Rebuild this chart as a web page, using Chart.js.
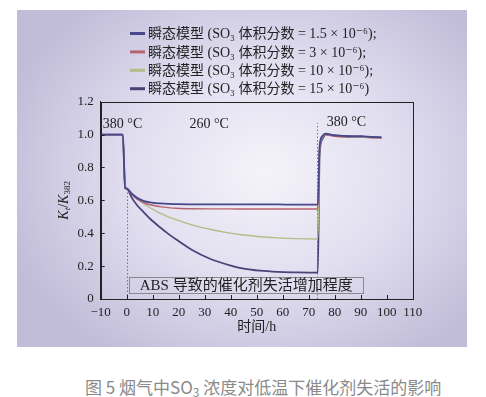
<!DOCTYPE html>
<html>
<head>
<meta charset="utf-8">
<script src="https://cdn.jsdelivr.net/npm/chart.js@4.4.0/dist/chart.umd.min.js"></script>
<style>
body { margin: 0; background: #fff; width: 486px; height: 397px; position: relative; overflow: hidden; }
#panel { position: absolute; left: 17px; top: 10px; width: 450px; height: 337px;
  background: radial-gradient(ellipse 60% 65% at 55% 48%, #f5f3f9 0%, #e1def0 50%, #c1bdd9 100%); }
#cap { position: absolute; left: 85px; top: 374px; font: 17px "Noto Sans CJK SC", sans-serif; color: #8a8a8a; white-space: nowrap; }
#cap sub { font-size: 12px; vertical-align: -3px; }
</style>
</head>
<body>
<div id="panel"><canvas id="chart" width="450" height="337"></canvas></div>
<div id="cap">图 5 烟气中SO<sub>3</sub> 浓度对低温下催化剂失活的影响</div>
<script>
// time in h
var times = [-10, -1.5, -0.6, 0, 2, 4, 6.4, 9, 12.8, 16, 19.2, 25, 32, 39.7, 45, 51.3, 58, 65, 73.5, 74.2, 75.2, 76.5, 80, 85, 90, 95, 98];

// Kt/K382 for each SO3 level
var k1_5 = [1.0, 1.0, 0.675, 0.672, 0.64, 0.615, 0.597, 0.587, 0.581, 0.578, 0.577, 0.576, 0.576, 0.575, 0.575, 0.575, 0.575, 0.574, 0.574, 0.93, 0.99, 1.005, 0.995, 0.99, 0.99, 0.985, 0.985];
var k3 = [1.0, 1.0, 0.675, 0.672, 0.635, 0.607, 0.587, 0.573, 0.562, 0.556, 0.552, 0.549, 0.548, 0.548, 0.547, 0.547, 0.547, 0.547, 0.547, 0.92, 0.985, 1.0, 0.99, 0.985, 0.99, 0.98, 0.98];
var k10 = [1.0, 1.0, 0.675, 0.672, 0.64, 0.61, 0.582, 0.555, 0.522, 0.5, 0.481, 0.451, 0.424, 0.401, 0.389, 0.379, 0.372, 0.367, 0.365, 0.9, 0.98, 1.0, 0.99, 0.985, 0.985, 0.98, 0.98];
var k15 = [1.0, 1.0, 0.675, 0.672, 0.615, 0.57, 0.53, 0.488, 0.436, 0.396, 0.36, 0.3, 0.245, 0.205, 0.185, 0.172, 0.165, 0.162, 0.16, 0.88, 0.97, 1.0, 0.995, 0.99, 0.985, 0.985, 0.98];

var seriesNames = [
  "瞬态模型 (SO₃ 体积分数 = 1.5 × 10⁻⁶);",
  "瞬态模型 (SO₃ 体积分数 = 3 × 10⁻⁶);",
  "瞬态模型 (SO₃ 体积分数 = 10 × 10⁻⁶);",
  "瞬态模型 (SO₃ 体积分数 = 15 × 10⁻⁶)"
];
var seriesColors = ["#47478c", "#b8646f", "#b3bd85", "#4c4277"];

var xTicks = [-10, 0, 10, 20, 30, 40, 50, 60, 70, 80, 90, 100, 110];
var yTicks = [0, 0.2, 0.4, 0.6, 0.8, 1.0, 1.2];

// annotations
var tempLabels = ["380 °C", "260 °C", "380 °C"];
var tempX = [-1.6, 31.7, 84.5];
var tempY = [1.064, 1.064, 1.077];
var guideX = [0, 73.3];
var guideTop = [0.67, 1.07];
var boxText = "ABS 导致的催化剂失活增加程度";

var serif = '"Liberation Serif", "DejaVu Serif", "Noto Sans CJK SC", serif';

function pts(vals) {
  return times.map(function (t, i) { return { x: t, y: vals[i] }; });
}

var allSeries = [k1_5, k3, k10, k15];
var datasets = allSeries.map(function (vals, i) {
  return {
    label: seriesNames[i],
    data: pts(vals),
    borderColor: seriesColors[i],
    backgroundColor: seriesColors[i],
    borderWidth: i == 0 || i == 3 ? 1.8 : 1.4,
    pointRadius: 0,
    cubicInterpolationMode: "monotone",
    fill: false
  };
});

var deco = {
  id: "deco",
  beforeDatasetsDraw: function (chart) {
    var ctx = chart.ctx, xs = chart.scales.x, ys = chart.scales.y;
    ctx.save();
    ctx.strokeStyle = "#777";
    ctx.lineWidth = 1;
    ctx.setLineDash([1.5, 2]);
    guideX.forEach(function (gx, i) {
      var px = Math.round(xs.getPixelForValue(gx)) + 0.5;
      ctx.beginPath();
      ctx.moveTo(px, ys.getPixelForValue(0));
      ctx.lineTo(px, ys.getPixelForValue(guideTop[i]));
      ctx.stroke();
    });
    ctx.setLineDash([]);
    // box with text
    var bx1 = xs.getPixelForValue(0.9), bx2 = xs.getPixelForValue(91);
    var by1 = ys.getPixelForValue(0.131), by2 = ys.getPixelForValue(0.034);
    ctx.strokeStyle = "#8a8a8a";
    ctx.strokeRect(Math.round(bx1) + 0.5, Math.round(by1) + 0.5, Math.round(bx2 - bx1), Math.round(by2 - by1));
    ctx.fillStyle = "#222";
    ctx.font = "15px " + serif;
    ctx.textAlign = "center";
    ctx.textBaseline = "middle";
    ctx.fillText(boxText, (bx1 + bx2) / 2, (by1 + by2) / 2 + 1);
    ctx.restore();
  },
  afterDraw: function (chart) {
    var ctx = chart.ctx, xs = chart.scales.x, ys = chart.scales.y, a = chart.chartArea;
    ctx.save();
    // frame
    ctx.strokeStyle = "#222";
    ctx.lineWidth = 1;
    ctx.strokeRect(Math.round(a.left) + 0.5, Math.round(a.top) + 0.5, Math.round(a.right - a.left), Math.round(a.bottom - a.top));
    // inward ticks
    ctx.beginPath();
    xTicks.forEach(function (v) {
      var px = Math.round(xs.getPixelForValue(v)) + 0.5;
      ctx.moveTo(px, a.bottom);
      ctx.lineTo(px, a.bottom - 4);
    });
    yTicks.forEach(function (v) {
      var py = Math.round(ys.getPixelForValue(v)) + 0.5;
      ctx.moveTo(a.left, py);
      ctx.lineTo(a.left + 4, py);
    });
    ctx.stroke();
    // temperature labels
    ctx.fillStyle = "#222";
    ctx.font = "14px " + serif;
    ctx.textAlign = "center";
    ctx.textBaseline = "middle";
    tempLabels.forEach(function (t, i) {
      ctx.fillText(t, xs.getPixelForValue(tempX[i]), ys.getPixelForValue(tempY[i]));
    });
    // legend
    ctx.textAlign = "left";
    ctx.font = "14px " + serif;
    seriesNames.forEach(function (name, i) {
      var ly = 23.5 + i * 18.4;
      ctx.strokeStyle = seriesColors[i];
      ctx.lineWidth = 3;
      ctx.beginPath();
      ctx.moveTo(113, ly);
      ctx.lineTo(128, ly);
      ctx.stroke();
      ctx.fillStyle = "#222";
      ctx.fillText(name, 131, ly + 1);
    });
    // y axis title K_t/K_382
    ctx.translate(47.5, (a.top + a.bottom) / 2);
    ctx.rotate(-Math.PI / 2);
    var parts = [
      { t: "K", f: "italic 14px " + serif, dy: 0 },
      { t: "t", f: "italic 9px " + serif, dy: 3 },
      { t: "/", f: "14px " + serif, dy: 0 },
      { t: "K", f: "italic 14px " + serif, dy: 0 },
      { t: "382", f: "9px " + serif, dy: 3 }
    ];
    var total = 0;
    parts.forEach(function (p) { ctx.font = p.f; total += ctx.measureText(p.t).width; });
    var cx = -total / 2;
    ctx.fillStyle = "#222";
    parts.forEach(function (p) {
      ctx.font = p.f;
      ctx.fillText(p.t, cx, p.dy);
      cx += ctx.measureText(p.t).width;
    });
    ctx.restore();
  }
};

var ctx = document.getElementById("chart").getContext("2d");
var chartLine = new Chart(ctx, {
  type: "line",
  data: { datasets: datasets },
  plugins: [deco],
  options: {
    responsive: false,
    animation: false,
    layout: { padding: { top: 91.7, right: 54.3, left: 0, bottom: 0 } },
    plugins: { legend: { display: false }, tooltip: { enabled: false } },
    scales: {
      x: {
        type: "linear",
        min: -10,
        max: 110,
        afterBuildTicks: function (s) { s.ticks = xTicks.map(function (v) { return { value: v }; }); },
        afterFit: function (s) { s.height = 48; },
        grid: { display: false, drawTicks: false },
        border: { display: true, color: "#222" },
        ticks: {
          autoSkip: false,
          maxRotation: 0,
          padding: 6,
          color: "#222",
          font: { family: serif, size: 13 },
          callback: function (v) { return v < 0 ? "−" + (-v) : "" + v; }
        },
        title: {
          display: true,
          text: "时间/h",
          color: "#222",
          font: { family: serif, size: 14 },
          padding: { top: 0, bottom: 11 }
        }
      },
      y: {
        min: 0,
        max: 1.2,
        afterBuildTicks: function (s) { s.ticks = yTicks.map(function (v) { return { value: v }; }); },
        afterFit: function (s) { s.width = 83.7; },
        grid: { display: false, drawTicks: false },
        border: { display: true, color: "#222" },
        ticks: {
          padding: 7,
          color: "#222",
          font: { family: serif, size: 13 },
          callback: function (v) { return v === 0 ? "0" : v.toFixed(1); }
        }
      }
    }
  }
});
</script>
</body>
</html>
